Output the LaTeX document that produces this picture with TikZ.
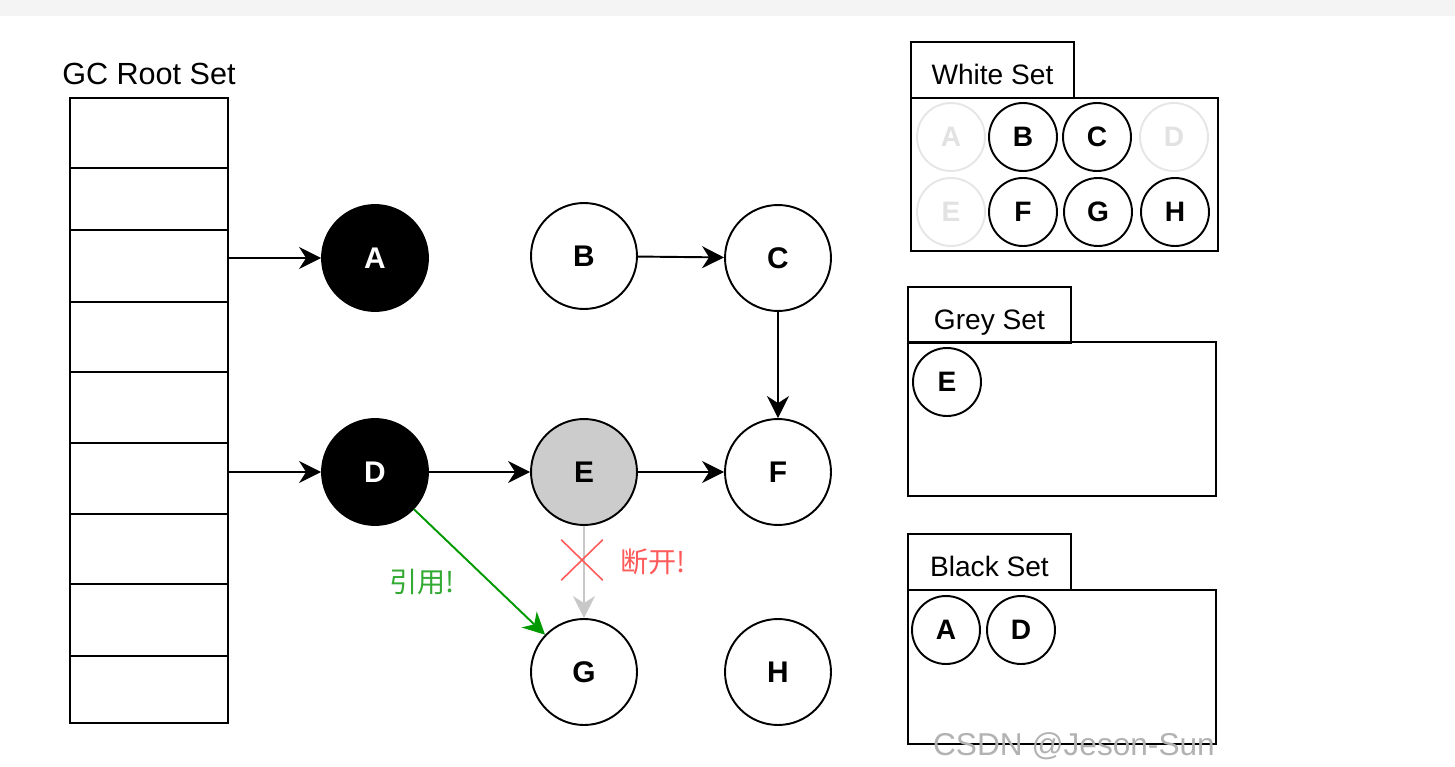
\documentclass[tikz,border=0pt]{standalone}
\usepackage{fontspec}
\setmainfont{Liberation Sans}
\newfontfamily\cjk{Noto Sans CJK SC}
\usetikzlibrary{positioning, arrows.meta, calc, shapes.misc}

\definecolor{topband}{HTML}{F4F4F4}
\definecolor{greyfill}{HTML}{CCCCCC}
\definecolor{fadeline}{HTML}{E6E6E6}
\definecolor{fadetext}{HTML}{E2E2E2}
\definecolor{cutgrey}{HTML}{C8C8C8}
\definecolor{refgreen}{HTML}{009900}
\definecolor{labgreen}{HTML}{33AA33}
\definecolor{cutred}{HTML}{FF5A5A}

\begin{document}
\begin{tikzpicture}[
  x=0.02cm, y=-0.02cm,
  line width=1.1pt,
  font=\fontsize{16}{19}\selectfont,
  % Estilos del conjunto raiz
  cell/.style={draw, rectangle, minimum width=3.16cm, anchor=north west, inner sep=0pt},
  % Estilos de objetos
  obj/.style={draw, circle, minimum size=2.12cm, inner sep=0pt, fill=white, font=\fontsize{17}{20}\selectfont\bfseries},
  blackobj/.style={obj, fill=black, text=white},
  greyobj/.style={obj, fill=greyfill},
  mini/.style={draw, circle, minimum size=1.36cm, inner sep=0pt, fill=white, font=\fontsize{16}{19}\selectfont\bfseries},
  fade/.style={mini, draw=fadeline, text=fadetext},
  % Estilos de conjuntos
  tab/.style={draw, rectangle, anchor=north west, minimum width=3.26cm, minimum height=1.12cm, inner sep=0pt, text height=1.6em, text depth=0pt},
  setbox/.style={draw, rectangle, anchor=north west, minimum width=6.16cm, minimum height=3.08cm, inner sep=0pt},
  % Estilos de flechas
  line/.style={draw, -{Stealth[length=12.5pt, width=12.5pt, inset=4pt]}}
]

  \useasboundingbox (0,0) rectangle (1455,767);
  \fill[topband] (0,0) rectangle (1455,16);

  % ==========================================
  % GC ROOT SET
  % ==========================================
  \node[font=\fontsize{17.4}{20}\selectfont] (roottitle) at (149,74) {GC Root Set};
  \foreach \i/\t/\b in {1/97/167, 2/167/229, 3/229/301, 4/301/371, 5/371/442,
                        6/442/513, 7/513/583, 8/583/655, 9/655/722}
    \node[cell, minimum height={(\b-\t)*0.02cm}] (r\i) at (69,\t) {};

  % ==========================================
  % OBJECT GRAPH
  % ==========================================
  \node[blackobj] (A) at (375,258) {A};
  \node[obj] (B) at (584,256) {B};
  \node[obj] (C) at (778,258) {C};
  \node[blackobj] (D) at (375,472) {D};
  \node[greyobj] (E) at (584,472) {E};
  \node[obj] (F) at (778,472) {F};
  \node[obj] (G) at (584,672) {G};
  \node[obj] (H) at (778,672) {H};

  \draw[line] (A -| r3.east) -- (A);
  \draw[line] (D -| r6.east) -- (D);
  \draw[line] (B) -- (C);
  \draw[line] (C) -- (F);
  \draw[line] (D) -- (E);
  \draw[line] (E) -- (F);

  % New reference and cut reference
  \draw[line, draw=refgreen] (D) -- (G);
  \node[text=labgreen, font=\cjk\fontsize{16}{19}\selectfont] (refnote) at (422,582) {引用!};
  \draw[line, draw=cutgrey] (E) -- (G);
  \node[draw=cutred, cross out, line width=0.9pt, minimum width=0.8cm, minimum height=0.78cm, inner sep=0pt] (cut) at (582,560) {};
  \node[text=cutred, font=\cjk\fontsize{16}{19}\selectfont] (cutnote) at (653,562) {断开!};

  % ==========================================
  % WHITE / GREY / BLACK SETS
  % ==========================================
  \node[setbox, minimum height=3.06cm, minimum width=6.14cm] (whitebox) at (910,97) {};
  \node[tab] (whitetab) at (910,41) {White Set};
  \foreach \n/\x/\y/\s in {A/951/137/fade, B/1023/137/mini, C/1097/137/mini, D/1174/137/fade,
                           E/951/212/fade, F/1023/212/mini, G/1098/212/mini, H/1175/212/mini}
    \node[\s] (w\n) at (\x,\y) {\n};

  \node[setbox] (greybox) at (907,341) {};
  \node[tab] (greytab) at (907,286) {Grey Set};
  \node[mini] (gE) at (947,382) {E};

  \node[setbox] (blackbox) at (907,589) {};
  \node[tab] (blacktab) at (907,533) {Black Set};
  \node[mini] (bA) at (946,630) {A};
  \node[mini] (bD) at (1021,630) {D};

  % Watermark
  \node[text=gray!60, font=\fontsize{18}{20}\selectfont] (mark) at (1074,746) {CSDN @Jeson-Sun};

\end{tikzpicture}
\end{document}
